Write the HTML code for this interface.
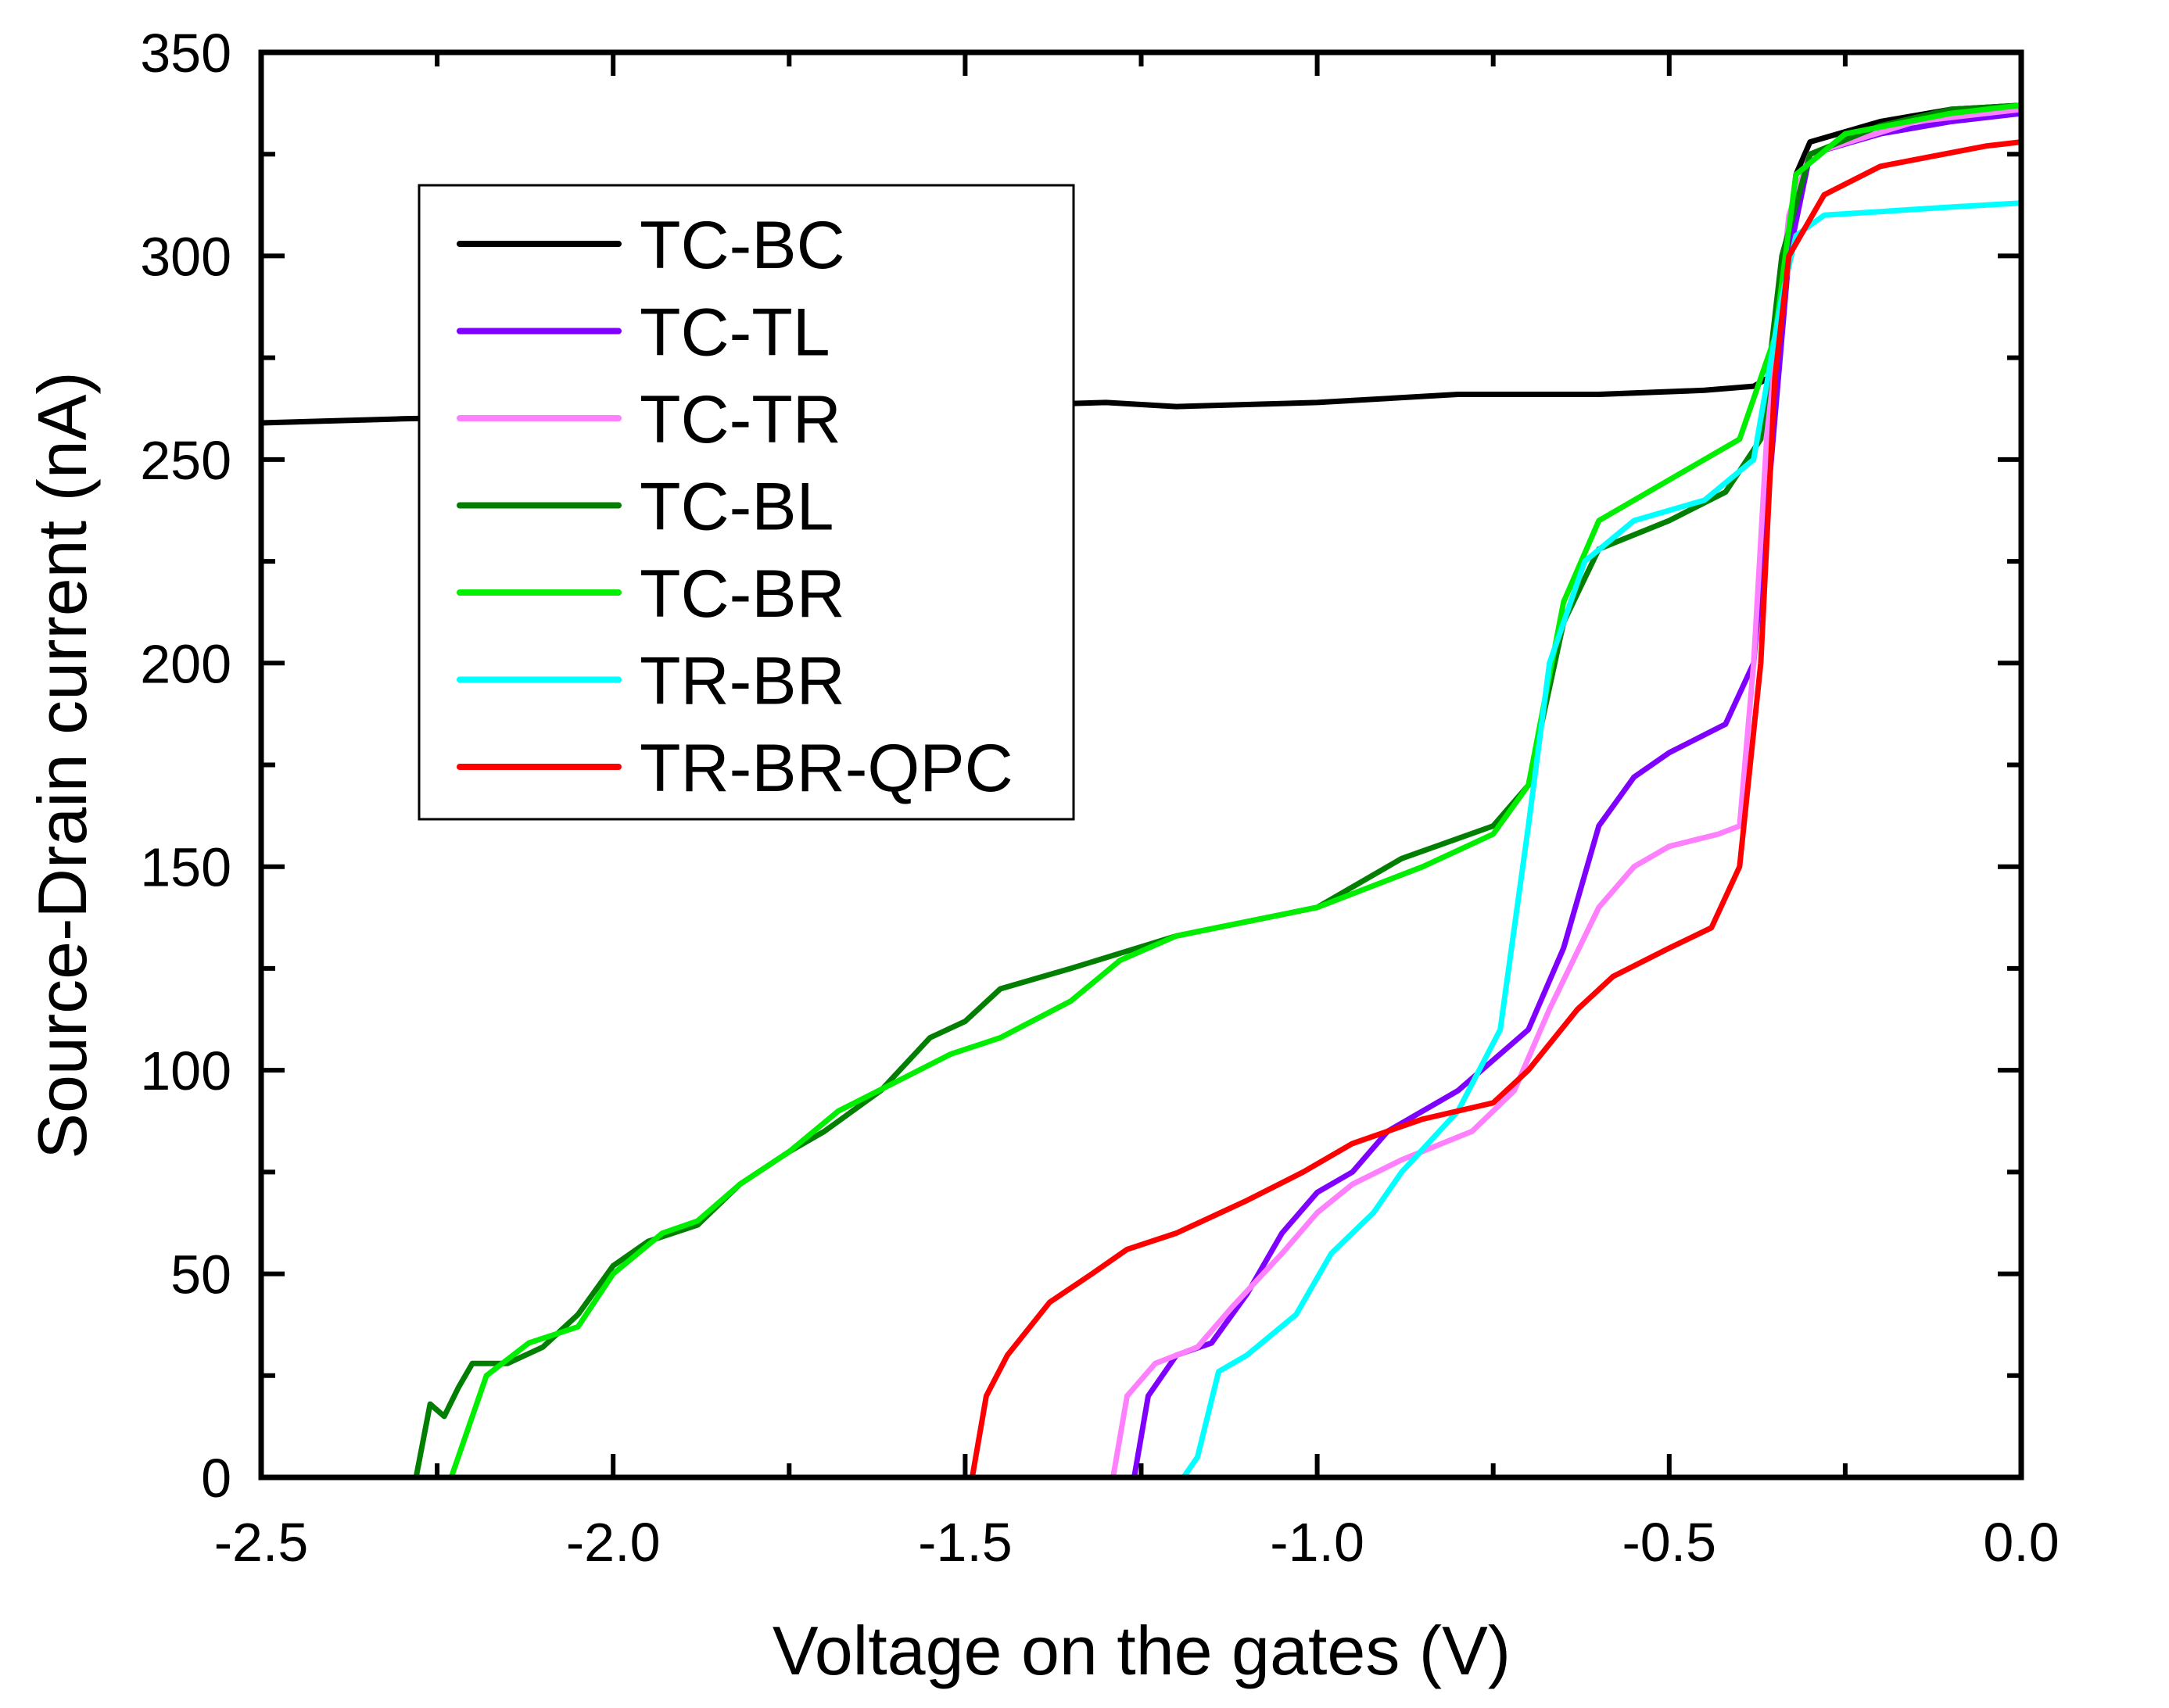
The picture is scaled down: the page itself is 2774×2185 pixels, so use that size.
<!DOCTYPE html>
<html><head><meta charset="utf-8"><style>
html,body{margin:0;padding:0;background:#fff;}
svg{display:block;font-family:"Liberation Sans",Arial,sans-serif;}
</style></head><body>
<svg id="chart" width="2774" height="2185" viewBox="0 0 2774 2185">
<g id="plot"></g>
</svg>
<script>
const xTicks = [-2.5, -2.0, -1.5, -1.0, -0.5, 0.0];
const xTickLabels = ["-2.5", "-2.0", "-1.5", "-1.0", "-0.5", "0.0"];
const yTicks = [0, 50, 100, 150, 200, 250, 300, 350];
const yTickLabels = ["0", "50", "100", "150", "200", "250", "300", "350"];
const seriesNames = ["TC-BC","TC-TL","TC-TR","TC-BL","TC-BR","TR-BR","TR-BR-QPC"];
const seriesColors = ["#000000","#7f00ff","#ff80ff","#007f00","#00ee00","#00ffff","#ff0000"];
const tcbcV = [-2.5,-2.3,-2.0,-1.7,-1.5,-1.3,-1.2,-1.0,-0.8,-0.6,-0.45,-0.38,-0.36,-0.34,-0.32,-0.3,-0.2,-0.1,0];
const tcbcI = [259,260,261,262,263,264,263,264,266,266,267,268,270,290,320,328,333,336,337];
const tctlV = [-2.5,-1.26,-1.24,-1.2,-1.15,-1.1,-1.05,-1.0,-0.95,-0.9,-0.8,-0.7,-0.65,-0.6,-0.55,-0.5,-0.42,-0.38,-0.36,-0.33,-0.3,-0.2,-0.1,0];
const tctlI = [0,0,20,30,33,45,60,70,75,85,95,110,130,160,172,178,185,200,240,300,325,330,333,335];
const tctrV = [-2.5,-1.29,-1.27,-1.23,-1.17,-1.12,-1.05,-1.0,-0.95,-0.88,-0.78,-0.72,-0.67,-0.6,-0.55,-0.5,-0.43,-0.4,-0.38,-0.36,-0.33,-0.3,-0.15,0];
const tctrI = [0,0,20,28,32,42,55,65,72,78,85,95,115,140,150,155,158,160,200,260,310,325,333,336];
const tcblV = [-2.5,-2.28,-2.26,-2.24,-2.22,-2.2,-2.15,-2.1,-2.05,-2.0,-1.95,-1.88,-1.82,-1.75,-1.7,-1.62,-1.55,-1.5,-1.45,-1.35,-1.2,-1.0,-0.88,-0.75,-0.7,-0.65,-0.6,-0.5,-0.42,-0.37,-0.34,-0.3,-0.2,-0.1,0];
const tcblI = [0,0,18,15,22,28,28,32,40,52,58,62,72,80,85,95,108,112,120,125,133,140,152,160,170,210,228,235,242,255,300,325,332,336,337];
const tcbrV = [-2.5,-2.23,-2.21,-2.18,-2.12,-2.05,-2.0,-1.93,-1.88,-1.82,-1.75,-1.68,-1.6,-1.52,-1.45,-1.35,-1.28,-1.2,-1.0,-0.85,-0.75,-0.7,-0.65,-0.6,-0.5,-0.4,-0.35,-0.32,-0.25,-0.1,0];
const tcbrI = [0,0,10,25,33,37,50,60,63,72,80,90,97,104,108,117,127,133,140,150,158,170,215,235,245,255,280,320,330,335,337];
const trbrV = [-2.5,-1.19,-1.17,-1.14,-1.1,-1.03,-0.98,-0.92,-0.88,-0.8,-0.74,-0.7,-0.67,-0.62,-0.55,-0.45,-0.38,-0.34,-0.32,-0.28,-0.1,0];
const trbrI = [0,0,5,26,30,40,55,65,75,90,110,160,200,225,235,240,250,290,305,310,312,313];
const qpcV = [-2.5,-1.49,-1.47,-1.44,-1.38,-1.32,-1.27,-1.2,-1.1,-1.02,-0.95,-0.85,-0.75,-0.7,-0.63,-0.58,-0.5,-0.44,-0.4,-0.37,-0.35,-0.33,-0.28,-0.2,-0.05,0];
const qpcI = [0,0,20,30,43,50,56,60,68,75,82,88,92,100,115,123,130,135,150,200,270,300,315,322,327,328];
const seriesV = [tcbcV,tctlV,tctrV,tcblV,tcbrV,trbrV,qpcV];
const seriesI = [tcbcI,tctlI,tctrI,tcblI,tcbrI,trbrI,qpcI];

const NS="http://www.w3.org/2000/svg";
const X0=334,X1=2585,Y0=1890,Y1=67;
const xs=v=>X0+(v+2.5)/2.5*(X1-X0);
const ys=i=>Y0-i/350*(Y0-Y1);
const g=document.getElementById('plot');
function mk(t,a,p){const e=document.createElementNS(NS,t);for(const k in a)e.setAttribute(k,a[k]);(p||g).appendChild(e);return e;}

for(let s=0;s<seriesNames.length;s++){
  const d=seriesV[s].map((v,i)=>(i?'L':'M')+xs(v).toFixed(1)+','+ys(seriesI[s][i]).toFixed(1)).join('');
  const p=mk('path',{d:d,fill:'none',stroke:seriesColors[s],'stroke-width':7,'stroke-linejoin':'round'});
  
  
}
const fr=mk('rect',{x:X0,y:Y1,width:X1-X0,height:Y0-Y1,fill:'none',stroke:'#000','stroke-width':7});


for(let k=0;k<=10;k++){
  const v=-2.5+k*0.25, x=xs(v), L=(k%2===0)?30:18;
  mk('line',{x1:x,y1:Y0,x2:x,y2:Y0-L,stroke:'#000','stroke-width':6});
  mk('line',{x1:x,y1:Y1,x2:x,y2:Y1+L,stroke:'#000','stroke-width':6});
}
xTicks.forEach((v,i)=>{
  const t=mk('text',{x:xs(v),y:1997,'font-size':70,'text-anchor':'middle'});
  t.textContent=xTickLabels[i];
  
  
});
for(let k=0;k<=14;k++){
  const i=k*25, y=ys(i), L=(k%2===0)?30:18;
  mk('line',{x1:X0,y1:y,x2:X0+L,y2:y,stroke:'#000','stroke-width':6});
  mk('line',{x1:X1,y1:y,x2:X1-L,y2:y,stroke:'#000','stroke-width':6});
}
yTicks.forEach((v,i)=>{
  const t=mk('text',{x:296,y:ys(v)+25,'font-size':70,'text-anchor':'end'});
  t.textContent=yTickLabels[i];
  
  
});
const xt=mk('text',{x:1460,y:2142,'font-size':88,'text-anchor':'middle'});
xt.textContent='Voltage on the gates (V)';


const yt=mk('text',{x:0,y:0,'font-size':88,'text-anchor':'middle',transform:'translate(110,979) rotate(-90)'});
yt.textContent='Source-Drain current (nA)';


const lg=mk('g',{});


mk('rect',{x:536,y:237,width:837,height:811,fill:'#fff',stroke:'#000','stroke-width':3},lg);
seriesNames.forEach((n,i)=>{
  const y=312+i*111.5;
  const e=mk('g',{},lg);
  
  
  mk('line',{x1:588,y1:y,x2:791,y2:y,stroke:seriesColors[i],'stroke-width':8,'stroke-linecap':'round'},e);
  const t=mk('text',{x:818,y:y+31,'font-size':86},e);
  t.textContent=n;
});
</script>
</body></html>
